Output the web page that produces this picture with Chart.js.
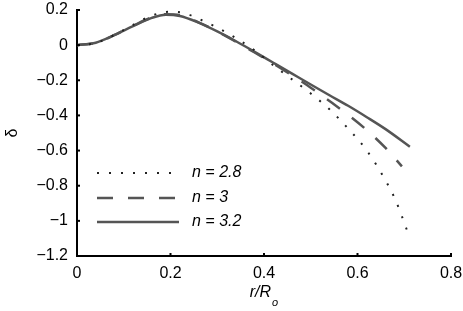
<!DOCTYPE html>
<html><head><meta charset="utf-8">
<script src="https://cdn.jsdelivr.net/npm/chart.js@4"></script>
<style>html,body{margin:0;padding:0;background:#fff}</style>
</head><body>
<canvas id="c" width="463" height="311"></canvas>
<script>
const seriesLabels = ['n = 2.8', 'n = 3', 'n = 3.2'];
const r28 = [0, 0.04, 0.08, 0.12, 0.16, 0.20, 0.23, 0.26, 0.30, 0.34, 0.38, 0.42, 0.46, 0.50, 0.54, 0.58, 0.62, 0.66, 0.68, 0.70, 0.707];
const d28 = [0, 0.012, 0.058, 0.115, 0.168, 0.19, 0.182, 0.15, 0.1, 0.04, -0.03, -0.115, -0.195, -0.275, -0.365, -0.475, -0.6, -0.77, -0.874, -1.01, -1.063];
const r30 = [0, 0.04, 0.08, 0.12, 0.16, 0.19, 0.22, 0.26, 0.30, 0.34, 0.38, 0.42, 0.46, 0.50, 0.54, 0.58, 0.62, 0.66, 0.695];
const d30 = [0, 0.013, 0.057, 0.11, 0.158, 0.176, 0.17, 0.13, 0.078, 0.02, -0.042, -0.105, -0.172, -0.242, -0.318, -0.397, -0.484, -0.585, -0.69];
const r32 = [0, 0.04, 0.08, 0.12, 0.16, 0.19, 0.22, 0.26, 0.30, 0.34, 0.38, 0.42, 0.46, 0.50, 0.54, 0.58, 0.62, 0.66, 0.712];
const d32 = [0, 0.014, 0.058, 0.108, 0.155, 0.173, 0.166, 0.128, 0.078, 0.022, -0.038, -0.1, -0.162, -0.224, -0.285, -0.345, -0.41, -0.478, -0.578];
const xTicks = [0, 0.2, 0.4, 0.6, 0.8];
const yTicks = [0.2, 0, -0.2, -0.4, -0.6, -0.8, -1, -1.2];
const yTitle = 'δ';
const xTitleMain = 'r/R';
const xTitleSub = 'o';

const FONT = "'Liberation Sans', Arial, Helvetica, sans-serif";
const FS = 16;
const pts = (r, d) => r.map((v, i) => ({x: v, y: d[i]}));
const fmt = v => (Math.abs(v) < 1e-9 ? '0' : String(+v.toFixed(2)).replace('-', '\u2212'));

const styles = [
  {borderColor: '#222', borderWidth: 2, borderDash: [2, 10]},
  {borderColor: '#555', borderWidth: 2.5, borderDash: [16, 15]},
  {borderColor: '#555', borderWidth: 2.5, borderDash: []}
];
const seriesData = [pts(r28, d28), pts(r30, d30), pts(r32, d32)];

const decor = {
  id: 'decor',
  afterDraw(chart) {
    const ctx = chart.ctx, xs = chart.scales.x, ys = chart.scales.y, ca = chart.chartArea;
    ctx.save();
    ctx.strokeStyle = '#000';
    ctx.lineWidth = 2;
    xTicks.forEach(v => {
      if (v === 0) return;
      const p = xs.getPixelForValue(v);
      ctx.beginPath(); ctx.moveTo(p, ca.bottom); ctx.lineTo(p, ca.bottom - 3); ctx.stroke();
    });
    yTicks.forEach(v => {
      if (v === -1.2) return;
      const p = ys.getPixelForValue(v);
      ctx.beginPath(); ctx.moveTo(ca.left, p); ctx.lineTo(ca.left + 3, p); ctx.stroke();
    });
    // x title
    ctx.fillStyle = '#000';
    ctx.textBaseline = 'alphabetic';
    ctx.font = 'italic ' + FS + 'px ' + FONT;
    const w1 = ctx.measureText(xTitleMain).width;
    ctx.font = 'italic 11px ' + FONT;
    const w2 = ctx.measureText(xTitleSub).width;
    const cx = (ca.left + ca.right) / 2;
    const x0 = cx - (w1 + w2 + 1) / 2;
    ctx.font = 'italic ' + FS + 'px ' + FONT;
    ctx.textAlign = 'left';
    ctx.fillText(xTitleMain, x0, 297);
    ctx.font = 'italic 11px ' + FONT;
    ctx.fillText(xTitleSub, x0 + w1 + 1, 306);
    // legend
    const ly = [173, 198, 222];
    const lx0 = ca.left + 20, lx1 = ca.left + 102, tx = ca.left + 115;
    seriesLabels.forEach((lab, i) => {
      const s = styles[i];
      ctx.strokeStyle = s.borderColor;
      ctx.lineWidth = s.borderWidth;
      ctx.setLineDash(s.borderDash);
      ctx.beginPath(); ctx.moveTo(lx0, ly[i]); ctx.lineTo(lx1, ly[i]); ctx.stroke();
      ctx.setLineDash([]);
      ctx.fillStyle = '#000';
      ctx.font = 'italic ' + FS + 'px ' + FONT;
      ctx.textBaseline = 'middle';
      ctx.fillText(lab, tx, ly[i]);
    });
    ctx.restore();
  }
};

new Chart(document.getElementById('c'), {
  type: 'line',
  data: {
    datasets: seriesLabels.map((lab, i) => Object.assign({
      label: lab,
      data: seriesData[i],
      pointRadius: 0,
      fill: false,
      cubicInterpolationMode: 'monotone'
    }, styles[i]))
  },
  options: {
    responsive: false,
    animation: false,
    devicePixelRatio: 1,
    layout: {padding: {left: 0, right: 12, top: 10, bottom: 0}},
    plugins: {legend: {display: false}, tooltip: {enabled: false}},
    scales: {
      x: {
        type: 'linear', min: 0, max: 0.8,
        afterBuildTicks: s => { s.ticks = xTicks.map(v => ({value: v})); },
        afterFit: s => { s.height = 55; s.paddingLeft = 0; s.paddingRight = 0; },
        grid: {display: false, drawTicks: false},
        border: {display: true, color: '#000', width: 2},
        ticks: {color: '#000', font: {family: FONT, size: FS}, padding: 8, callback: v => fmt(v), maxRotation: 0}
      },
      y: {
        type: 'linear', min: -1.2, max: 0.2,
        afterBuildTicks: s => { s.ticks = yTicks.map(v => ({value: v})); },
        afterFit: s => { s.width = 77; s.paddingTop = 0; s.paddingBottom = 0; },
        grid: {display: false, drawTicks: false},
        border: {display: true, color: '#000', width: 2},
        title: {display: true, text: yTitle, color: '#000', font: {family: FONT, size: FS}, padding: {top: 3, bottom: 4}},
        ticks: {color: '#000', font: {family: FONT, size: FS}, padding: 9, callback: v => fmt(v)}
      }
    }
  },
  plugins: [decor]
});
</script>
</body></html>
